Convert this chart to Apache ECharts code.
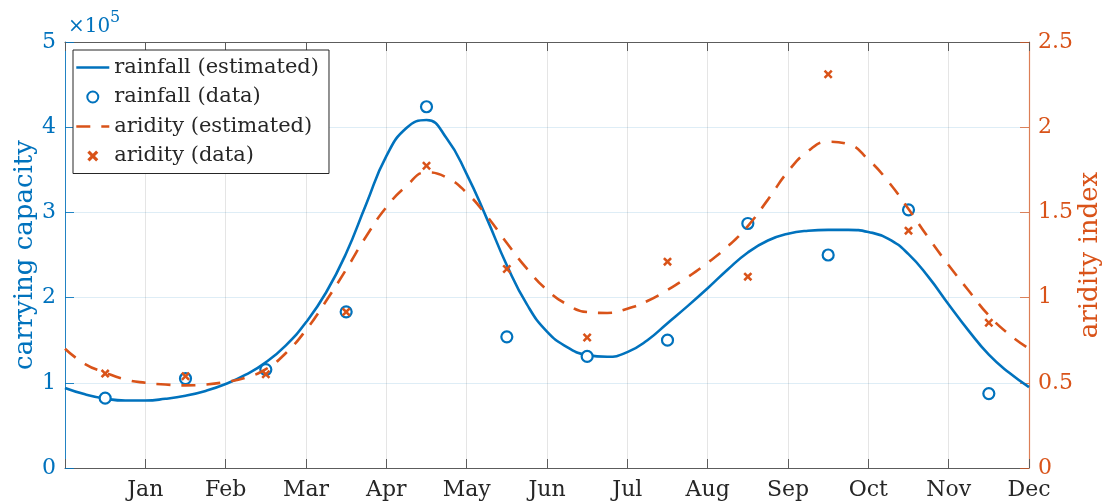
<!DOCTYPE html>
<html>
<head>
<meta charset="utf-8">
<script src="https://cdn.jsdelivr.net/npm/echarts@6/dist/echarts.min.js"></script>
<style>
  html, body { margin: 0; padding: 0; background: #fff; overflow: hidden; }
  #chart { width: 1110px; height: 504px; }
</style>
</head>
<body>
<div id="chart"></div>
<script>
// ---- data ----
const monthLabels = ['Jan','Feb','Mar','Apr','May','Jun','Jul','Aug','Sep','Oct','Nov','Dec'];

// x positions (months) of the fitted curves
const curveX = [0,0.25,0.5,0.75,1,1.25,1.5,1.75,2,2.25,2.5,2.75,3,3.25,3.5,3.75,4,4.25,4.5,4.75,5,5.25,5.5,5.75,6,6.25,6.5,6.75,7,7.25,7.5,7.75,8,8.25,8.5,8.75,9,9.25,9.5,9.75,10,10.25,10.5,10.75,11,11.25,11.5,11.75,12];

// carrying capacity (x 1e5), rainfall-estimated curve
const rainfallEst = [0.94,0.865,0.815,0.792,0.792,0.812,0.848,0.905,0.985,1.095,1.24,1.44,1.71,2.06,2.52,3.10,3.66,3.99,4.085,3.87,3.45,2.93,2.38,1.92,1.60,1.42,1.325,1.305,1.36,1.50,1.70,1.90,2.11,2.33,2.53,2.67,2.75,2.785,2.795,2.795,2.77,2.69,2.51,2.24,1.92,1.61,1.33,1.12,0.95];

// aridity index, estimated curve
const aridityEst = [0.70,0.61,0.56,0.52,0.50,0.49,0.485,0.49,0.505,0.53,0.58,0.675,0.81,0.98,1.165,1.36,1.53,1.655,1.735,1.705,1.615,1.48,1.32,1.17,1.045,0.96,0.915,0.91,0.935,0.98,1.045,1.12,1.205,1.30,1.42,1.575,1.74,1.86,1.915,1.90,1.81,1.68,1.52,1.35,1.19,1.04,0.895,0.785,0.70];

// monthly data points (mid-month)
const dataX = [0.5,1.5,2.5,3.5,4.5,5.5,6.5,7.5,8.5,9.5,10.5,11.5];
const rainfallData = [0.82,1.05,1.155,1.833,4.24,1.54,1.31,1.50,2.87,2.50,3.03,0.873];
const aridityData = [0.554,0.538,0.55,0.916,1.774,1.168,0.766,1.211,1.123,2.311,1.393,0.852];

// ---- chart ----
const BLUE = '#0072BD';
const ORANGE = '#D95319';
const TXT = '#262626';
const FONT = '"DejaVu Serif", "Liberation Serif", serif';
const DASH = [14, 11];

const pairs = (xs, ys) => xs.map((x, i) => [x, ys[i]]);
const crossPath = 'path://M2,0 L5,3 L8,0 L10,2 L7,5 L10,8 L8,10 L5,7 L2,10 L0,8 L3,5 L0,2 Z';

const chart = echarts.init(document.getElementById('chart'), null, { renderer: 'canvas' });

chart.setOption({
  animation: false,
  backgroundColor: '#fff',
  grid: { left: 65, right: 81, top: 42, bottom: 36, containLabel: false, outerBoundsMode: 'none' },
  xAxis: [
    {
      type: 'value', min: 0, max: 12, interval: 1, position: 'bottom',
      axisLine: { show: true, onZero: false, lineStyle: { color: '#5c5c5c', width: 1 } },
      axisTick: { show: true, inside: true, length: 9, lineStyle: { color: '#5c5c5c', width: 1 } },
      axisLabel: {
        show: true, margin: 11, showMinLabel: true, showMaxLabel: true, hideOverlap: false,
        color: TXT, fontFamily: FONT, fontSize: 22,
        formatter: v => (v >= 1 ? monthLabels[Math.round(v) - 1] : '')
      },
      splitLine: { show: true, lineStyle: { color: 'rgba(38,38,38,0.12)', width: 1 } }
    },
    {
      type: 'value', min: 0, max: 12, interval: 1, position: 'top',
      axisLine: { show: true, onZero: false, lineStyle: { color: '#5c5c5c', width: 1 } },
      axisTick: { show: true, inside: true, length: 9, lineStyle: { color: '#5c5c5c', width: 1 } },
      axisLabel: { show: false },
      splitLine: { show: false }
    }
  ],
  yAxis: [
    {
      type: 'value', min: 0, max: 5, interval: 1, position: 'left',
      name: 'carrying capacity', nameLocation: 'middle', nameGap: 27, nameRotate: 90, nameMoveOverlap: false,
      nameTextStyle: { color: BLUE, fontFamily: FONT, fontSize: 26 },
      axisLine: { show: true, onZero: false, lineStyle: { color: 'rgba(0,114,189,0.85)', width: 1 } },
      axisTick: { show: true, inside: true, length: 9, lineStyle: { color: 'rgba(0,114,189,0.85)', width: 1 } },
      axisLabel: { color: BLUE, fontFamily: FONT, fontSize: 22, margin: 9 },
      splitLine: { show: true, lineStyle: { color: 'rgba(0,114,189,0.13)', width: 1 } }
    },
    {
      type: 'value', min: 0, max: 2.5, interval: 0.5, position: 'right',
      name: 'aridity index', nameLocation: 'middle', nameGap: 48, nameRotate: 90, nameMoveOverlap: false,
      nameTextStyle: { color: ORANGE, fontFamily: FONT, fontSize: 26 },
      axisLine: { show: true, onZero: false, lineStyle: { color: 'rgba(217,83,25,0.7)', width: 1.2 } },
      axisTick: { show: true, inside: true, length: 9, lineStyle: { color: 'rgba(217,83,25,0.7)', width: 1 } },
      axisLabel: { color: ORANGE, fontFamily: FONT, fontSize: 22, margin: 9 },
      splitLine: { show: false }
    }
  ],
  legend: {
    orient: 'vertical', left: 73, top: 50,
    padding: [7, 10, 7, 2], itemGap: 8.5, itemWidth: 33, itemHeight: 11,
    backgroundColor: '#fff', borderColor: '#262626', borderWidth: 1, borderRadius: 0,
    textStyle: { color: TXT, fontFamily: FONT, fontSize: 21 },
    data: [
      { name: 'rainfall (estimated)', itemStyle: { color: 'rgba(0,0,0,0)', borderWidth: 0, opacity: 0 },
        lineStyle: { color: BLUE, width: 2.6, type: 'solid' } },
      { name: 'rainfall (data)' },
      { name: 'aridity (estimated)', itemStyle: { color: 'rgba(0,0,0,0)', borderWidth: 0, opacity: 0 },
        lineStyle: { color: ORANGE, width: 2.6, type: DASH } },
      { name: 'aridity (data)' }
    ]
  },
  graphic: [
    { type: 'text', left: 68, top: 17, style: { text: '×10', font: '20px "DejaVu Serif"', fill: BLUE } },
    { type: 'text', left: 110, top: 10, style: { text: '5', font: '16px "DejaVu Serif"', fill: BLUE } }
  ],
  series: [
    {
      name: 'rainfall (estimated)', type: 'line', xAxisIndex: 0, yAxisIndex: 0,
      data: pairs(curveX, rainfallEst), smooth: 0.5, symbol: 'none', showSymbol: false,
      lineStyle: { color: BLUE, width: 2.6 }, itemStyle: { color: BLUE }, z: 2
    },
    {
      name: 'rainfall (data)', type: 'scatter', xAxisIndex: 0, yAxisIndex: 0,
      data: pairs(dataX, rainfallData), symbol: 'circle', symbolSize: 11,
      itemStyle: { color: '#fff', opacity: 1, borderColor: BLUE, borderWidth: 2.2 }, z: 3
    },
    {
      name: 'aridity (estimated)', type: 'line', xAxisIndex: 0, yAxisIndex: 1,
      data: pairs(curveX, aridityEst), smooth: 0.5, symbol: 'none', showSymbol: false,
      lineStyle: { color: ORANGE, width: 2.6, type: DASH }, itemStyle: { color: ORANGE }, z: 4
    },
    {
      name: 'aridity (data)', type: 'scatter', xAxisIndex: 0, yAxisIndex: 1,
      data: pairs(dataX, aridityData), symbol: crossPath, symbolSize: 9,
      itemStyle: { color: ORANGE, opacity: 1 }, z: 5
    }
  ]
});
</script>
</body>
</html>
